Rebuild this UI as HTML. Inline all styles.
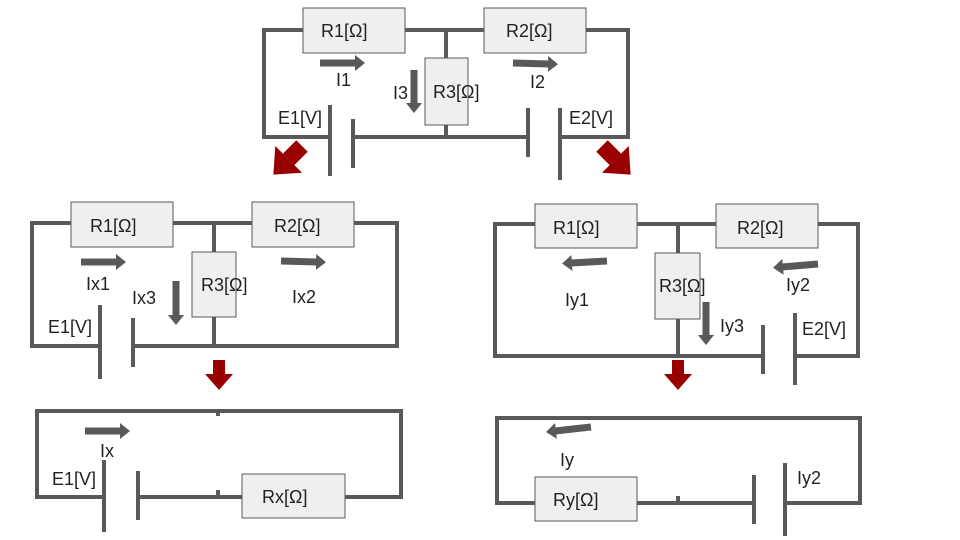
<!DOCTYPE html>
<html><head><meta charset="utf-8"><style>
html,body{margin:0;padding:0;background:#fff;}
svg{display:block;}
text{font-family:"Liberation Sans",sans-serif;font-size:18px;fill:#222;}
</style></head><body>
<svg width="960" height="540" viewBox="0 0 960 540" xmlns="http://www.w3.org/2000/svg">
<defs>
<marker id="ah" markerUnits="userSpaceOnUse" markerWidth="10" markerHeight="16" refX="1" refY="8" orient="auto">
<path d="M0,0 L10,8 L0,16 Z" fill="#595959"/>
</marker>
<g id="red"><rect x="-6" y="-22" width="12" height="14" fill="#990000"/><path d="M-14,-8 L14,-8 L0,8 Z" fill="#990000"/></g>
</defs>
<g stroke="#595959" stroke-width="4" fill="none" stroke-linecap="square">
<path d="M330,137 H264 V30 H628 V137 H560"/>
<path d="M353,137 H528"/>
<path d="M446,30 V137"/>
<path d="M330,107 V174 M353,121 V166 M528,110 V155 M560,110 V178"/>
<path d="M100,346 H32 V223 H397 V346 H133"/>
<path d="M214,223 V346"/>
<path d="M100,307 V377 M133,320 V365"/>
<path d="M104,497 H37 V411 H401 V497 H138"/>
<path d="M104,462 V530 M138,473 V518"/>
<path d="M218,411 V414 M218,497 V492"/>
<path d="M763,356 H495 V224 H858 V356 H795"/>
<path d="M678,224 V356"/>
<path d="M763,327 V372 M795,315 V383"/>
<path d="M754,503 H497 V418 H860 V503 H785"/>
<path d="M754,477 V522 M785,465 V534"/>
<path d="M678,503 V498"/>
</g>
<g fill="#efefef" stroke="#595959" stroke-width="1">
<rect x="303" y="8" width="102" height="45"/>
<rect x="484" y="8" width="102" height="45"/>
<rect x="425" y="58" width="43" height="67"/>
<rect x="71" y="202" width="102" height="45"/>
<rect x="252" y="202" width="102" height="45"/>
<rect x="192" y="252" width="44" height="65"/>
<rect x="242" y="474" width="103" height="44"/>
<rect x="535" y="204" width="102" height="44"/>
<rect x="716" y="204" width="102" height="44"/>
<rect x="655" y="253" width="45" height="66"/>
<rect x="535" y="477" width="102" height="44"/>
</g>
<g stroke="#595959" stroke-width="7" marker-end="url(#ah)">
<line x1="320" y1="63" x2="356" y2="63"/>
<line x1="513" y1="63" x2="549" y2="64"/>
<line x1="414" y1="70" x2="414" y2="104"/>
<line x1="81" y1="262" x2="117" y2="262"/>
<line x1="281" y1="261" x2="317" y2="262"/>
<line x1="176" y1="281" x2="176" y2="316"/>
<line x1="85" y1="431" x2="121" y2="431"/>
<line x1="607" y1="261" x2="571" y2="263"/>
<line x1="818" y1="264" x2="782" y2="267"/>
<line x1="706" y1="302" x2="706" y2="336"/>
<line x1="591" y1="427" x2="555" y2="431"/>
</g>
<use href="#red" transform="translate(281,167) rotate(45) scale(1.35)"/>
<use href="#red" transform="translate(623,167) rotate(-45) scale(1.35)"/>
<use href="#red" transform="translate(219,382)"/>
<use href="#red" transform="translate(678,382)"/>
<g>
<text x="321" y="37">R1[Ω]</text>
<text x="506" y="37">R2[Ω]</text>
<text x="433" y="98">R3[Ω]</text>
<text x="336" y="86">I1</text>
<text x="393" y="99">I3</text>
<text x="530" y="88">I2</text>
<text x="278" y="124">E1[V]</text>
<text x="569" y="124">E2[V]</text>

<text x="90" y="232">R1[Ω]</text>
<text x="274" y="232">R2[Ω]</text>
<text x="201" y="291">R3[Ω]</text>
<text x="86" y="290">Ix1</text>
<text x="132" y="304">Ix3</text>
<text x="292" y="303">Ix2</text>
<text x="48" y="333">E1[V]</text>

<text x="100" y="457">Ix</text>
<text x="52" y="485">E1[V]</text>
<text x="262" y="503">Rx[Ω]</text>

<text x="553" y="234">R1[Ω]</text>
<text x="737" y="234">R2[Ω]</text>
<text x="659" y="292">R3[Ω]</text>
<text x="565" y="306">Iy1</text>
<text x="786" y="291">Iy2</text>
<text x="720" y="332">Iy3</text>
<text x="802" y="335">E2[V]</text>

<text x="560" y="466">Iy</text>
<text x="797" y="484">Iy2</text>
<text x="553" y="506">Ry[Ω]</text>
</g>
</svg>
</body></html>
